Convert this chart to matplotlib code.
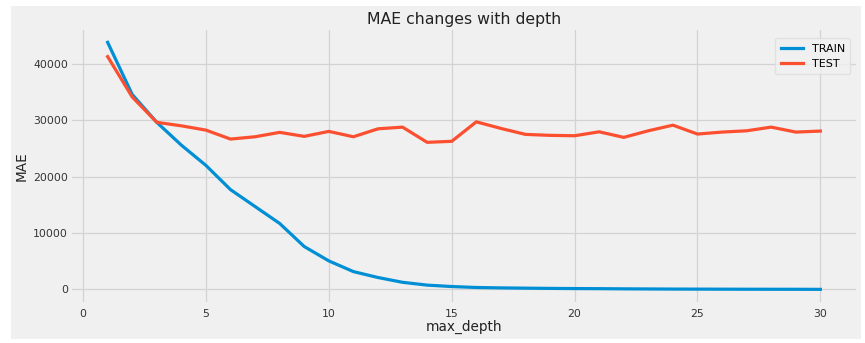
import matplotlib
matplotlib.use("Agg")
import matplotlib.pyplot as plt
from matplotlib.patches import Rectangle

depth = list(range(1, 31))
train_mae = [43850, 34600, 29650, 25600, 22000, 17700, 14700, 11700, 7600, 5050,
             3150, 2100, 1250, 750, 500, 330, 260, 210, 170, 140,
             120, 90, 70, 50, 40, 30, 20, 15, 10, 0]
test_mae = [41320, 34150, 29650, 29030, 28270, 26680, 27090, 27870, 27160, 28040,
            27090, 28500, 28800, 26100, 26280, 29740, 28570, 27510, 27340, 27270,
            27970, 26980, 28150, 29150, 27570, 27920, 28150, 28800, 27920, 28100]
series_labels = ["TRAIN", "TEST"]
colors = ["#008fd5", "#fc4f30"]

W, H = 865, 343
fig = plt.figure(figsize=(W / 100, H / 100), dpi=100, facecolor="white")
fig.patches.append(Rectangle((11 / W, 1 - 339 / H), (861 - 11) / W, (339 - 6) / H,
                             transform=fig.transFigure, facecolor="#f0f0f0",
                             edgecolor="none", zorder=-10))

ax = fig.add_axes([72 / W, 1 - 301.7 / H, (856 - 72) / W, (301.7 - 30) / H])
ax.set_facecolor("#f0f0f0")
for s in ax.spines.values():
    s.set_visible(False)
ax.grid(True, color="#d3d3d3", linewidth=0.9)
ax.set_axisbelow(True)

ax.plot(depth, train_mae, color=colors[0], linewidth=2.3, label=series_labels[0])
ax.plot(depth, test_mae, color=colors[1], linewidth=2.3, label=series_labels[1])

ax.set_xticks([0, 5, 10, 15, 20, 25, 30])
ax.set_yticks([0, 10000, 20000, 30000, 40000])
ax.tick_params(axis="both", length=0, labelsize=7.8, colors="#333333")
ax.tick_params(axis="y", pad=3)
ax.tick_params(axis="x", pad=5)

ax.set_title("MAE changes with depth", fontsize=11.3, color="#222222", pad=4)
ax.set_xlabel("max_depth", fontsize=9.8, color="#222222", labelpad=1)
ax.set_ylabel("MAE", fontsize=9.8, color="#222222", labelpad=3)

leg = ax.legend(loc="upper right", fontsize=8, frameon=True, handlelength=2.0,
                borderpad=0.5, labelspacing=0.45, bbox_to_anchor=(1.0, 0.99))
leg.get_frame().set_facecolor("#f0f0f0")
leg.get_frame().set_edgecolor("#dddddd")

fig.savefig("out.png", dpi=100, facecolor="white")
